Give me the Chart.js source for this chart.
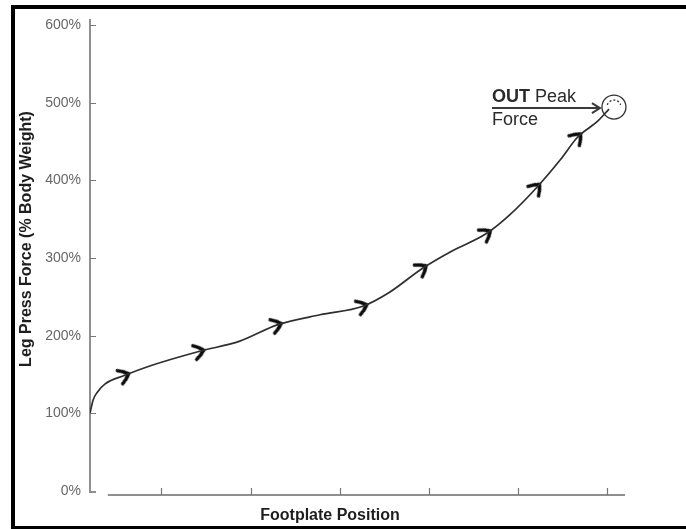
<!DOCTYPE html>
<html>
<head>
<meta charset="utf-8">
<script src="https://cdn.jsdelivr.net/npm/chart.js@4"></script>
<style>
html, body { margin: 0; padding: 0; background: #fff; }
#wrap { position: relative; width: 686px; height: 529px; overflow: hidden; }
#frame { position: absolute; left: 11px; top: 5px; right: -10px; bottom: 0; border-top: 4px solid #000; border-left: 4px solid #000; border-bottom: 3px solid #000; pointer-events: none; }
</style>
</head>
<body>
<div id="wrap">
  <canvas id="chart" width="686" height="529"></canvas>
  <div id="frame"></div>
</div>
<script>
// footplate position (arbitrary units) vs leg press force (% body weight)
const curveX = [0, 0.034, 0.08, 0.17, 0.39, 0.67, 1.23, 1.68, 2.1, 2.58, 3.06, 3.36, 3.73, 4.04, 4.45, 4.71, 5.01, 5.27, 5.47, 5.7, 5.82];
const curveY = [100, 117, 127, 138, 149, 161, 180, 193, 214, 227, 238, 256, 287, 308, 332, 356, 391, 426, 456, 477, 492];

// direction arrows along the curve
const arrowX = [0.39, 1.23, 2.1, 3.06, 3.73, 4.45, 5.01, 5.47];
const arrowY = [149, 180, 214, 238, 287, 332, 391, 456];

const yTicks = [0, 100, 200, 300, 400, 500, 600];
const xTicks = [0.8, 1.8, 2.8, 3.8, 4.8, 5.8];

const peakX = 5.82;
const peakY = 492;

const FONT = "'Liberation Sans', Arial, Helvetica, sans-serif";

function makeChevron() {
    const c = document.createElement('canvas');
    c.width = 20;
    c.height = 20;
    const g = c.getContext('2d');
    g.strokeStyle = '#0c0c0c';
    g.lineWidth = 3.6;
    g.lineCap = 'round';
    g.lineJoin = 'miter';
    g.beginPath();
    g.moveTo(5, 3);
    g.quadraticCurveTo(10, 5.5, 14, 10);
    g.quadraticCurveTo(10, 14.5, 5, 17);
    g.stroke();
    return c;
}

function curveAt(x) {
    for (let i = 0; i < curveX.length - 1; i++) {
        if (x >= curveX[i] && x <= curveX[i + 1]) {
            const t = (x - curveX[i]) / (curveX[i + 1] - curveX[i]);
            return curveY[i] + t * (curveY[i + 1] - curveY[i]);
        }
    }
    return curveY[curveY.length - 1];
}

function arrowAngle(ctx) {
    if (ctx.type !== 'data') return 0;
    const xs = ctx.chart.scales.x;
    const ys = ctx.chart.scales.y;
    const x = arrowX[ctx.dataIndex];
    const a = Math.max(0, x - 0.15);
    const b = Math.min(curveX[curveX.length - 1], x + 0.15);
    const dx = xs.getPixelForValue(b) - xs.getPixelForValue(a);
    const dy = ys.getPixelForValue(curveAt(b)) - ys.getPixelForValue(curveAt(a));
    return Math.atan2(dy, dx) * 180 / Math.PI;
}

const axesPlugin = {
    id: 'axes',
    beforeDatasetsDraw(chart) {
        const { ctx, chartArea: area, scales: { x, y } } = chart;
        const y0 = y.getPixelForValue(0);
        const xLine = y0 + 4;

        ctx.save();
        ctx.strokeStyle = '#8f8f8f';
        ctx.lineWidth = 2;
        ctx.beginPath();
        ctx.moveTo(area.left, area.top);
        ctx.lineTo(area.left, y0 + 1);
        ctx.lineTo(area.left + 6, y0 + 1);
        ctx.stroke();

        ctx.beginPath();
        ctx.moveTo(x.getPixelForValue(0.2), xLine);
        ctx.lineTo(area.right, xLine);
        ctx.stroke();

        ctx.lineWidth = 1.2;
        ctx.strokeStyle = '#777';
        ctx.beginPath();
        yTicks.forEach(v => {
            if (v === 0) return;
            const p = Math.round(y.getPixelForValue(v)) + 0.5;
            ctx.moveTo(area.left, p);
            ctx.lineTo(area.left + 6, p);
        });
        xTicks.forEach(v => {
            const p = Math.round(x.getPixelForValue(v)) + 0.5;
            ctx.moveTo(p, xLine);
            ctx.lineTo(p, xLine - 7);
        });
        ctx.stroke();

        // axis titles
        ctx.fillStyle = '#1e1e1e';
        ctx.font = 'bold 16px ' + FONT;
        ctx.textAlign = 'center';
        ctx.textBaseline = 'middle';
        ctx.fillText('Footplate Position', 330, 516);
        ctx.translate(27, 239);
        ctx.rotate(-Math.PI / 2);
        ctx.fillText('Leg Press Force (% Body Weight)', 0, 0);
        ctx.restore();
    },
    afterDatasetsDraw(chart) {
        const { ctx, scales: { x, y } } = chart;
        const px = x.getPixelForValue(peakX);
        const py = y.getPixelForValue(peakY);

        ctx.save();
        // circle around the peak
        ctx.strokeStyle = '#333';
        ctx.lineWidth = 1.3;
        ctx.beginPath();
        ctx.arc(px + 5, py - 2, 12, 0, Math.PI * 2);
        ctx.stroke();
        ctx.setLineDash([2, 2]);
        ctx.beginPath();
        ctx.arc(px + 5, py - 2, 7, Math.PI * 1.1, Math.PI * 1.9);
        ctx.stroke();
        ctx.setLineDash([]);

        // arrow pointing to the peak
        const tipX = px - 9;
        const lineY = py - 1;
        ctx.strokeStyle = '#3a3a3a';
        ctx.lineWidth = 2;
        ctx.beginPath();
        ctx.moveTo(px - 117, lineY);
        ctx.lineTo(tipX, lineY);
        ctx.moveTo(tipX - 8, lineY - 5);
        ctx.lineTo(tipX, lineY);
        ctx.lineTo(tipX - 8, lineY + 5);
        ctx.stroke();

        // label
        ctx.fillStyle = '#2a2a2a';
        ctx.textAlign = 'left';
        ctx.textBaseline = 'alphabetic';
        ctx.font = 'bold 18px ' + FONT;
        ctx.fillText('OUT', px - 117, lineY - 6);
        const w = ctx.measureText('OUT ').width;
        ctx.font = '18px ' + FONT;
        ctx.fillText('Peak', px - 117 + w, lineY - 6);
        ctx.fillText('Force', px - 117, lineY + 17);
        ctx.restore();
    }
};

new Chart(document.getElementById('chart'), {
    type: 'line',
    data: {
        datasets: [{
            data: curveX.map((v, i) => ({ x: v, y: curveY[i] })),
            borderColor: '#2e2e2e',
            borderWidth: 1.7,
            pointRadius: 0,
            cubicInterpolationMode: 'monotone',
            fill: false
        }, {
            data: arrowX.map((v, i) => ({ x: v, y: arrowY[i] })),
            showLine: false,
            pointStyle: makeChevron(),
            pointRadius: 10,
            rotation: arrowAngle
        }]
    },
    options: {
        responsive: false,
        animation: false,
        events: [],
        layout: { padding: { left: 0, top: 19, right: 61, bottom: 0 } },
        plugins: {
            legend: { display: false },
            tooltip: { enabled: false }
        },
        scales: {
            x: {
                type: 'linear',
                min: 0,
                max: 6,
                afterBuildTicks: s => { s.ticks = xTicks.map(v => ({ value: v })); },
                afterFit: s => { s.height = 38; },
                ticks: { display: false },
                grid: { display: false, drawTicks: false },
                border: { display: false }
            },
            y: {
                min: 0,
                max: 608,
                afterBuildTicks: s => { s.ticks = yTicks.map(v => ({ value: v })); },
                afterFit: s => { s.width = 90; },
                ticks: {
                    callback: v => v + '%',
                    color: '#666',
                    font: { family: FONT, size: 14 },
                    padding: 9
                },
                grid: { display: false, drawTicks: false },
                border: { display: false }
            }
        }
    },
    plugins: [axesPlugin]
});
</script>
</body>
</html>
